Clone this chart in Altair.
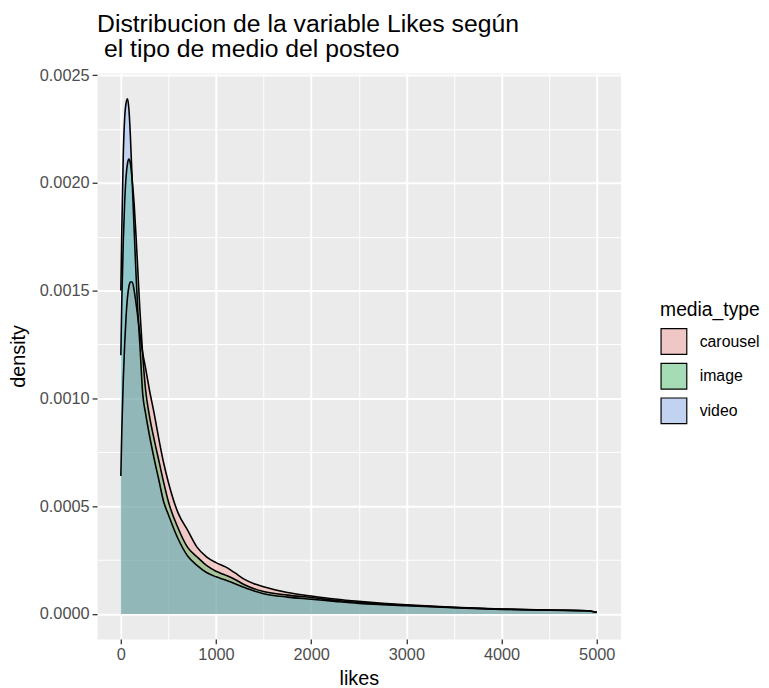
import altair as alt
import pandas as pd

# ---- data ----
likes = [0, 10, 25, 40, 55, 70, 85, 100, 120, 140, 160, 180, 200, 230, 260, 300, 350,
         400, 450, 500, 600, 700, 800, 900, 1000, 1100, 1200, 1300, 1400, 1500, 1750,
         2000, 2250, 2500, 2750, 3000, 3500, 4000, 4500, 4900, 5000]

carousel = [0.00064, 0.00085, 0.00108, 0.00125, 0.00138, 0.00147, 0.00152, 0.00154, 0.00154,
            0.00150, 0.00144, 0.00137, 0.00130, 0.00121, 0.00114, 0.00104, 0.00093, 0.00081,
            0.00070, 0.00061, 0.00047, 0.00039, 0.00031, 0.000265, 0.000238, 0.000218,
            0.000190, 0.000160, 0.000140, 0.000126, 0.000099, 0.000083, 0.000069, 0.000058,
            0.000049, 0.000042, 0.000031, 0.000023, 0.000018, 0.000015, 0.000008]

image = [0.00120, 0.00145, 0.00172, 0.00191, 0.00203, 0.00209, 0.00211, 0.00209, 0.00201,
         0.00190, 0.00175, 0.00158, 0.00141, 0.00120, 0.00104, 0.00092, 0.00081, 0.00071,
         0.00061, 0.00052, 0.00040, 0.00031, 0.000265, 0.000225, 0.000198, 0.000180,
         0.000160, 0.000135, 0.000117, 0.000104, 0.000087, 0.000076, 0.000063, 0.000053,
         0.000046, 0.000040, 0.000030, 0.000022, 0.000018, 0.000015, 0.000008]

video = [0.00150, 0.00178, 0.00212, 0.00230, 0.00237, 0.00239, 0.00234, 0.00222, 0.00200,
         0.00178, 0.00157, 0.00139, 0.00125, 0.00102, 0.00093, 0.00083, 0.00072, 0.00062,
         0.00052, 0.00046, 0.00035, 0.00027, 0.000225, 0.000192, 0.000172, 0.000157,
         0.000140, 0.000122, 0.000106, 0.000094, 0.000078, 0.000068, 0.000058, 0.000049,
         0.000043, 0.000038, 0.000029, 0.000021, 0.000017, 0.000015, 0.000008]

media_types = ["carousel", "image", "video"]
colors = ["#F8766D", "#00BA38", "#619CFF"]
# the same hues at 30% alpha over the grey panel, for the legend keys
key_colors = ["#EFC8C5", "#A5DCB5", "#C2D3F1"]

x_ticks = [0, 500, 1000, 1500, 2000, 2500, 3000, 3500, 4000, 4500, 5000]
y_ticks = [0, 0.00025, 0.0005, 0.00075, 0.001, 0.00125, 0.0015, 0.00175, 0.002, 0.00225, 0.0025]

title_lines = ["Distribucion de la variable Likes según", "\u200b\u00a0el tipo de medio del posteo"]

rows = []
for mt, vals in zip(media_types, [carousel, image, video]):
    for x, d in zip(likes, vals):
        rows.append({"likes": x, "density": d, "media_type": mt})
df = pd.DataFrame(rows)

FONT = "Liberation Sans"

x_major = "datum.value % 1000 === 0"
y_major = "abs(datum.value * 2000 - round(datum.value * 2000)) < 1e-6"

x_enc = alt.X(
    "likes:Q",
    scale=alt.Scale(domain=[-250, 5250], nice=False, zero=False),
    axis=alt.Axis(
        values=x_ticks,
        labelExpr=f"{x_major} ? format(datum.value, 'd') : ''",
        gridWidth={"condition": {"test": x_major, "value": 2}, "value": 1},
        tickOpacity={"condition": {"test": x_major, "value": 1}, "value": 0},
        title="likes",
    ),
)
y_enc = alt.Y(
    "density:Q",
    stack=False,
    scale=alt.Scale(domain=[-0.000116, 0.00251], nice=False, zero=False),
    axis=alt.Axis(
        values=y_ticks,
        labelExpr=f"{y_major} ? format(datum.value, '.4f') : ''",
        gridWidth={"condition": {"test": y_major, "value": 2}, "value": 1},
        tickOpacity={"condition": {"test": y_major, "value": 1}, "value": 0},
        title="density",
    ),
)

area = alt.Chart(df).mark_area(fillOpacity=0.3, interpolate="monotone").encode(
    x=x_enc,
    y=y_enc,
    y2=alt.datum(0),
    fill=alt.Fill(
        "media_type:N",
        scale=alt.Scale(domain=media_types, range=colors),
        legend=None,
    ),
)

line = alt.Chart(df).mark_line(color="black", strokeWidth=1.6, interpolate="monotone").encode(
    x=x_enc,
    y=y_enc,
    detail="media_type:N",
)

# empty layer that only carries the legend (keys drawn in the blended colours)
legend_layer = (
    alt.Chart(df)
    .transform_filter("datum.density < 0")
    .mark_area()
    .encode(
        x=x_enc,
        y=y_enc,
        fill=alt.Fill(
            "media_type:N",
            scale=alt.Scale(domain=media_types, range=key_colors),
            legend=alt.Legend(
                title="media_type",
                orient="none",
                legendX=569,
                legendY=231,
                symbolType="square",
                symbolSize=676,
                symbolStrokeColor="black",
                symbolStrokeWidth=1.2,
                symbolOpacity=1,
                labelOffset=12,
                rowPadding=3,
                titlePadding=7,
            ),
        ),
    )
)

chart = (
    alt.layer(area, line, legend_layer)
    .resolve_scale(fill="independent")
    .resolve_legend(fill="independent")
    .properties(
        width=529,
        height=572,
        autosize=alt.AutoSizeParams(type="none"),
        padding={"left": 90, "top": 62, "right": 142, "bottom": 46},
        title=alt.TitleParams(
            text=title_lines,
            anchor="start",
            frame="group",
            font=FONT,
            fontSize=25,
            fontWeight="normal",
            color="black",
            lineHeight=25.5,
            offset=5,
        ),
    )
    .configure_view(fill="#EBEBEB", stroke="transparent")
    .configure_axis(
        gridColor="white",
        domain=False,
        tickColor="#333333",
        tickWidth=1.3,
        tickSize=5,
        labelFont=FONT,
        labelFontSize=16.5,
        labelColor="#4D4D4D",
        labelPadding=3,
        titleFont=FONT,
        titleFontSize=20,
        titleFontWeight="normal",
        titleColor="black",
    )
    .configure_axisY(titlePadding=11)
    .configure_axisX(titlePadding=6)
    .configure_legend(
        titleFont=FONT,
        titleFontSize=19.5,
        titleFontWeight="normal",
        titleColor="black",
        labelFont=FONT,
        labelFontSize=16,
        labelColor="black",
    )
)

chart.save("out.html", embed_options={"renderer": "svg", "actions": False})
